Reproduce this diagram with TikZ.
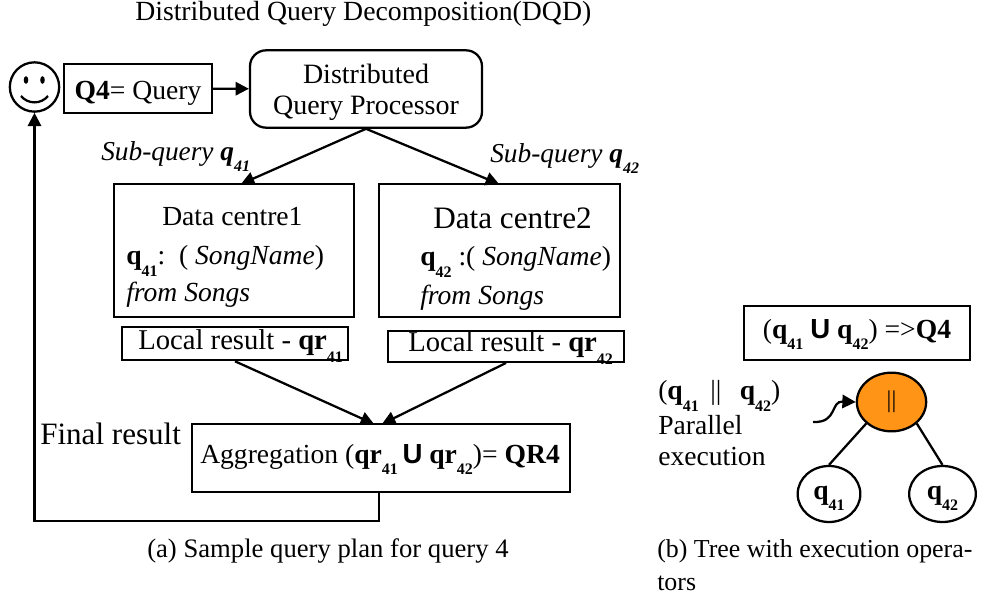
\documentclass[tikz,border=0pt]{standalone}
\usepackage{fontspec}
\usepackage{tikz}
\usetikzlibrary{arrows.meta,positioning,shapes.geometric}
\setmainfont{Liberation Serif}
\newfontfamily\unionfont{Liberation Sans}
\definecolor{parfill}{HTML}{FF9416}
\newcommand{\fs}[1]{\fontsize{#1pt}{23pt}\selectfont}
\newcommand{\nsub}[1]{\raisebox{-0.42em}{\fontsize{12pt}{12pt}\selectfont\bfseries #1}}
\newcommand{\itsub}[1]{\raisebox{-0.4em}{\fontsize{12pt}{12pt}\selectfont\bfseries\itshape #1}}
\newcommand{\unionsym}{{\unionfont\bfseries U}}
\begin{document}
\begin{tikzpicture}[x=0.75pt,y=-0.75pt,
    main/.style = {draw, line width=1.7pt, inner sep=0pt, align=center, font=\fs{20.7}},
    txt/.style = {inner sep=0pt, anchor=base west, align=left, font=\fs{20.7}},
    link/.style = {line width=1.7pt},
    arrow/.style = {line width=1.7pt, -{Triangle[length=10pt,width=10pt]}}]
    \useasboundingbox (0,0) rectangle (985,598);
    \node[txt, font=\fs{20.8}] (title) at (135,21) {Distributed Query Decomposition(DQD)};
    % left plan
    \node[main, circle, minimum size=37pt] (user) at (34.5,87) {};
    \fill (26,80) ellipse (2.3 and 3.8);
    \fill (42.5,80) ellipse (2.3 and 3.8);
    \draw[link] (21,96) .. controls (28,104.5) and (41,104.5) .. (48,96);
    \node[main, text height=16pt, text depth=0pt, minimum width=111pt, minimum height=37pt] (query) at (138,88.5) {\textbf{Q4}= Query};
    \node[main, rounded corners=12pt, minimum width=174pt, minimum height=58pt] (proc) at (366,89) {};
    \node[txt, font=\fs{21}, anchor=center, align=center] (proct) at (366,92) {Distributed\\Query Processor};
    \node[txt, font=\fs{20.5}\itshape] (sub1) at (101,161) {Sub-query \textbf{q}\itsub{41}};
    \node[txt, font=\fs{20.5}\itshape] (sub2) at (490,163) {Sub-query \textbf{q}\itsub{42}};
    \node[main, minimum width=180pt, minimum height=100pt] (dc1) at (234,250.5) {};
    \node[main, minimum width=181pt, minimum height=100pt] (dc2) at (499.5,250.5) {};
    \node[txt] (dc1a) at (162,226) {Data centre1};
    \node[txt] (dc1b) at (126,265) {\textbf{q}\nsub{41}:\, ( \textit{SongName})};
    \node[txt] (dc1c) at (126,302) {\textit{from Songs}};
    \node[txt, font=\fs{23.4}] (dc2a) at (433,229) {Data centre2};
    \node[txt] (dc2b) at (420,266) {\textbf{q}\nsub{42} :( \textit{SongName})};
    \node[txt] (dc2c) at (420,305) {\textit{from Songs}};
    \node[main, minimum width=170pt, minimum height=25pt] (res1) at (235,343.5) {};
    \node[main, minimum width=177pt, minimum height=23pt] (res2) at (506,346.5) {};
    \node[txt, font=\fs{21.5}] (res1t) at (138,350) {Local result - \textbf{qr}\nsub{41}};
    \node[txt, font=\fs{21.5}] (res2t) at (408,352) {Local result - \textbf{qr}\nsub{42}};
    \node[main, minimum width=284pt, minimum height=51pt] (agg) at (381,458) {};
    \node[txt] (aggt) at (200,463) {Aggregation (\textbf{qr}\nsub{41}\,\unionsym{} \textbf{qr}\nsub{42})= \textbf{QR4}};
    \node[txt, font=\fs{23.3}] (final) at (40,444) {Final result};
    \coordinate (back1) at (379,521);
    \coordinate (back2) at (34.5,521);
    \coordinate (pin1) at (241,184);
    \coordinate (pin2) at (499,184);
    \coordinate (pin3) at (374,424);
    \coordinate (pin4) at (382,424);
    \draw[arrow] (query) -- (proc);
    \draw[arrow] (proc.south) -- (pin1);
    \draw[arrow] (proc.south) -- (pin2);
    \draw[arrow] (res1.south) -- (pin3);
    \draw[arrow] (res2.south) -- (pin4);
    \draw[arrow] (agg.south -| back1) -- (back1) -- (back2) -- (user.south);
    % right tree
    \node[main, text height=10pt, text depth=2pt, minimum width=170pt, minimum height=41pt] (eq) at (857,333) {(\textbf{q}\nsub{41} \unionsym{} \textbf{q}\nsub{42}) =>\textbf{Q4}};
    \node[main, ellipse, fill=parfill, minimum width=52pt, minimum height=44pt, font=\fs{18}] (par) at (891.5,402) {||};
    \node[main, ellipse, text height=10pt, text depth=2pt, minimum width=47pt, minimum height=42pt] (q1) at (829,494) {\textbf{q}\nsub{41}};
    \node[main, ellipse, text height=10pt, text depth=2pt, minimum width=50pt, minimum height=42pt] (q2) at (942.5,494) {\textbf{q}\nsub{42}};
    \node[txt] (parl) at (658,400) {(\textbf{q}\nsub{41} \,||\, \ \textbf{q}\nsub{42})};
    \node[txt] (parm) at (658,435) {Parallel};
    \node[txt] (parn) at (658,465) {execution};
    \coordinate (curl) at (813,422);
    \draw[link] (par.south west) -- (q1.north);
    \draw[link] (par.south east) -- (q2.north);
    \draw[arrow] (curl) .. controls (838,423) and (830,401) .. (par.west);
    % captions
    \node[txt, font=\fs{20}] (capa) at (147,557) {(a) Sample query plan for query 4};
    \node[txt, font=\fs{19.4}] (capb) at (657,557) {(b) Tree with execution opera-};
    \node[txt, font=\fs{19.4}] (capc) at (657,590) {tors};
\end{tikzpicture}
\end{document}
